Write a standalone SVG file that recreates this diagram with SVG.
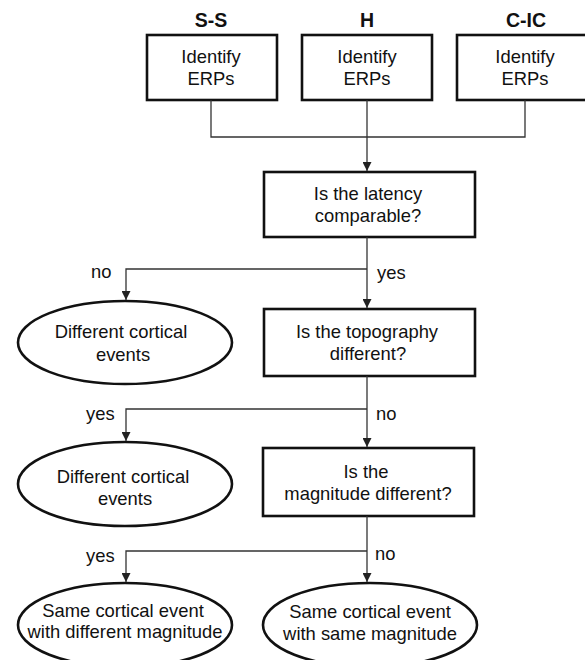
<svg xmlns="http://www.w3.org/2000/svg" width="585" height="660" viewBox="0 0 585 660">
<defs>
<marker id="arr" viewBox="0 0 10 10" refX="10" refY="5" markerWidth="9" markerHeight="9" markerUnits="userSpaceOnUse" orient="auto">
<path d="M0,0 L10,5 L0,10 Z" fill="#222"/>
</marker>
<style>
.box{fill:#fff;stroke:#111;stroke-width:2.6}
.t{font-family:"Liberation Sans",Arial,sans-serif;font-size:18.4px;fill:#111;text-anchor:middle}
.h{font-family:"Liberation Sans",Arial,sans-serif;font-size:19.5px;font-weight:bold;fill:#111;text-anchor:middle}
.l{font-family:"Liberation Sans",Arial,sans-serif;font-size:18.4px;fill:#111}
.c{fill:none;stroke:#333;stroke-width:1.3}
</style>
</defs>
<rect width="585" height="660" fill="#fff"/>
<g id="ss">
<text class="h" x="211" y="27">S-S</text>
<rect class="box" x="147" y="35" width="130" height="65"/>
<text class="t" x="211" y="63">Identify</text>
<text class="t" x="211" y="85">ERPs</text>
</g>
<g id="h">
<text class="h" x="367" y="27">H</text>
<rect class="box" x="302" y="35" width="130" height="65"/>
<text class="t" x="367" y="63">Identify</text>
<text class="t" x="367" y="85">ERPs</text>
</g>
<g id="cic">
<text class="h" x="526" y="27">C-IC</text>
<rect class="box" x="457" y="35" width="134" height="65"/>
<text class="t" x="525" y="63">Identify</text>
<text class="t" x="525" y="85">ERPs</text>
</g>
<g id="latency">
<rect class="box" x="264" y="172" width="211" height="65"/>
<text class="t" x="368" y="200">Is the latency</text>
<text class="t" x="368" y="222">comparable?</text>
</g>
<g id="diff1">
<ellipse class="box" cx="125" cy="342.5" rx="107" ry="41.5"/>
<text class="t" x="121" y="338">Different cortical</text>
<text class="t" x="123" y="361">events</text>
</g>
<g id="topography">
<rect class="box" x="264" y="309" width="211" height="67"/>
<text class="t" x="367" y="338">Is the topography</text>
<text class="t" x="368" y="360">different?</text>
</g>
<g id="diff2">
<ellipse class="box" cx="125" cy="484" rx="107" ry="42"/>
<text class="t" x="123" y="483">Different cortical</text>
<text class="t" x="125" y="505">events</text>
</g>
<g id="magnitude">
<rect class="box" x="263" y="448" width="211" height="68"/>
<text class="t" x="366" y="478">Is the</text>
<text class="t" x="368" y="500">magnitude different?</text>
</g>
<g id="same-diff">
<ellipse class="box" cx="125" cy="625" rx="107" ry="42"/>
<text class="t" x="123" y="617">Same cortical event</text>
<text class="t" x="125" y="638">with different magnitude</text>
</g>
<g id="same-same">
<ellipse class="box" cx="370" cy="625" rx="107" ry="42"/>
<text class="t" x="370" y="618">Same cortical event</text>
<text class="t" x="370" y="640">with same magnitude</text>
</g>
<g id="connectors">
<path class="c" d="M211,100 V137 H525 V100"/>
<path class="c" d="M367,100 V171" marker-end="url(#arr)"/>
<path class="c" d="M367,237 V308" marker-end="url(#arr)"/>
<path class="c" d="M367,269 H126 V300" marker-end="url(#arr)"/>
<path class="c" d="M367,376 V447" marker-end="url(#arr)"/>
<path class="c" d="M367,409 H126 V441" marker-end="url(#arr)"/>
<path class="c" d="M367,516 V582" marker-end="url(#arr)"/>
<path class="c" d="M367,551 H126 V582" marker-end="url(#arr)"/>
<text class="l" x="91" y="278">no</text>
<text class="l" x="377" y="279">yes</text>
<text class="l" x="86" y="420">yes</text>
<text class="l" x="376" y="420">no</text>
<text class="l" x="86" y="562">yes</text>
<text class="l" x="375" y="560">no</text>
</g>
</svg>
